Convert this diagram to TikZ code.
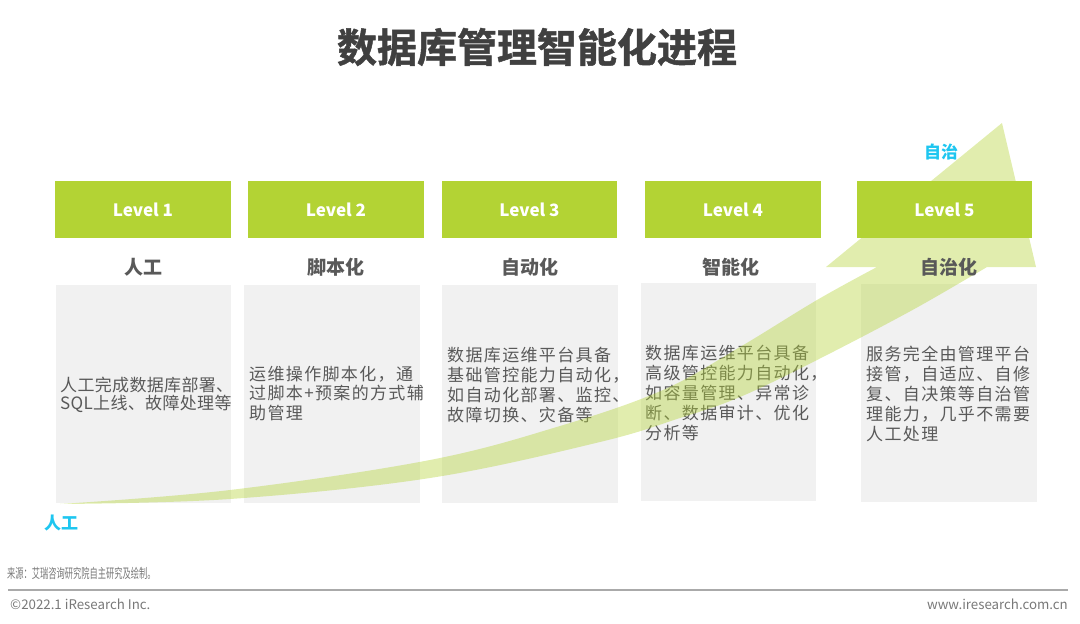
\documentclass[tikz,border=0pt]{standalone}
\usepackage{fontspec}
\usepackage{graphicx}
\setmainfont{Noto Sans CJK SC}
\newfontfamily\bodyfont[LetterSpace=8]{Noto Sans CJK SC}
\newfontfamily\bodyfontA[LetterSpace=2]{Noto Sans CJK SC}
\newfontfamily\titlefont[FakeBold=1.2]{Noto Sans CJK SC Bold}
\definecolor{lvgreen}{RGB}{179,211,52}
\definecolor{boxgray}{RGB}{241,241,241}
\definecolor{txtgray}{RGB}{89,89,89}
\definecolor{titlegray}{RGB}{64,64,64}
\definecolor{cyanlbl}{RGB}{30,198,240}
\definecolor{footgray}{RGB}{120,120,120}
\definecolor{rulegray}{RGB}{170,170,170}
\tikzset{
  levelbox/.style={fill=lvgreen, minimum width=176pt, minimum height=57pt, inner sep=0pt,
    text=white, font=\bfseries\fontsize{17}{20}\selectfont},
  graybox/.style={fill=boxgray, anchor=north west, minimum width=176pt, minimum height=218pt, inner sep=0pt},
  subtitle/.style={text=txtgray, inner sep=0pt, font=\bfseries\fontsize{19}{22}\selectfont},
  bodytext/.style={text=txtgray, inner sep=0pt, anchor=west, align=left, font=\bodyfont\fontsize{17}{20}\selectfont},
  cyanlabel/.style={text=cyanlbl, inner sep=0pt, font=\bfseries\fontsize{17}{20}\selectfont},
  footer/.style={text=footgray, inner sep=0pt, font=\fontsize{13.3}{15}\selectfont},
  arrowband/.style={fill=lvgreen, fill opacity=0.4}
}
\begin{document}
\begin{tikzpicture}[x=1pt,y=-1pt]
\useasboundingbox (0,0) rectangle (1080,624);
% title
\node[text=titlegray, inner sep=0pt, font=\titlefont\fontsize{40}{44}\selectfont] (title) at (537,47) {数据库管理智能化进程};
% gray boxes
\node[graybox, minimum width=175pt] (g1) at (56,285) {};
\node[graybox] (g2) at (244,285) {};
\node[graybox] (g3) at (442,285) {};
\node[graybox, minimum width=175pt] (g4) at (641,283) {};
\node[graybox] (g5) at (861,284) {};
% body texts
\node[bodytext, font=\bodyfontA\fontsize{17}{18}\selectfont] (t1) at (60,395) {人工完成数据库部署、\\SQL上线、故障处理等};
\node[bodytext, font=\bodyfont\fontsize{17}{19.5}\selectfont] (t2) at (249,393.5) {运维操作脚本化，通\\过脚本+预案的方式辅\\助管理};
\node[bodytext] (t3) at (447,385) {数据库运维平台具备\\基础管控能力自动化，\\如自动化部署、监控、\\故障切换、灾备等};
\node[bodytext] (t4) at (645,393) {数据库运维平台具备\\高级管控能力自动化，\\如容量管理、异常诊\\断、数据审计、优化\\分析等};
\node[bodytext] (t5) at (866,394) {服务完全由管理平台\\接管，自适应、自修\\复、自决策等自治管\\理能力，几乎不需要\\人工处理};
% curved arrow
\fill[arrowband] plot[smooth, tension=0.6] coordinates {(60,504) (230,490) (430,460) (560,426) (663,390) (740,347) (817,300) (877,267)}
  -- (826,267) -- (1002,123) -- (1036,267) -- (987,267)
  -- plot[smooth, tension=0.6] coordinates {(987,267) (970,277) (907,313) (817,360) (740,397) (680,418) (600,442) (430,478) (230,499) (60,504)} -- cycle;
% level boxes
\node[levelbox] (l1) at (143,209.5) {Level 1};
\node[levelbox] (l2) at (336,209.5) {Level 2};
\node[levelbox, minimum width=175pt] (l3) at (529.5,209.5) {Level 3};
\node[levelbox] (l4) at (733,209.5) {Level 4};
\node[levelbox, minimum width=175pt] (l5) at (944.5,209.5) {Level 5};
% subtitles
\node[subtitle] (s1) at (143,267) {人工};
\node[subtitle] (s2) at (336,267) {脚本化};
\node[subtitle] (s3) at (529.5,267) {自动化};
\node[subtitle] (s4) at (731,267) {智能化};
\node[subtitle] (s5) at (949,267) {自治化};
% cyan labels
\node[cyanlabel] (c1) at (941,152) {自治};
\node[cyanlabel] (c2) at (61,523) {人工};
% footer
\node[footer, anchor=west] (src) at (7,573) {\scalebox{0.62}[1]{来源：艾瑞咨询研究院自主研究及绘制。}};
\coordinate (rl) at (8,590);
\coordinate (rr) at (1068,590);
\draw[rulegray, line width=1.2pt] (rl) -- (rr);
\node[footer, anchor=west] (copy) at (10,604) {©2022.1 iResearch Inc.};
\node[footer, anchor=east] (web) at (1068,604) {www.iresearch.com.cn};
\end{tikzpicture}
\end{document}
